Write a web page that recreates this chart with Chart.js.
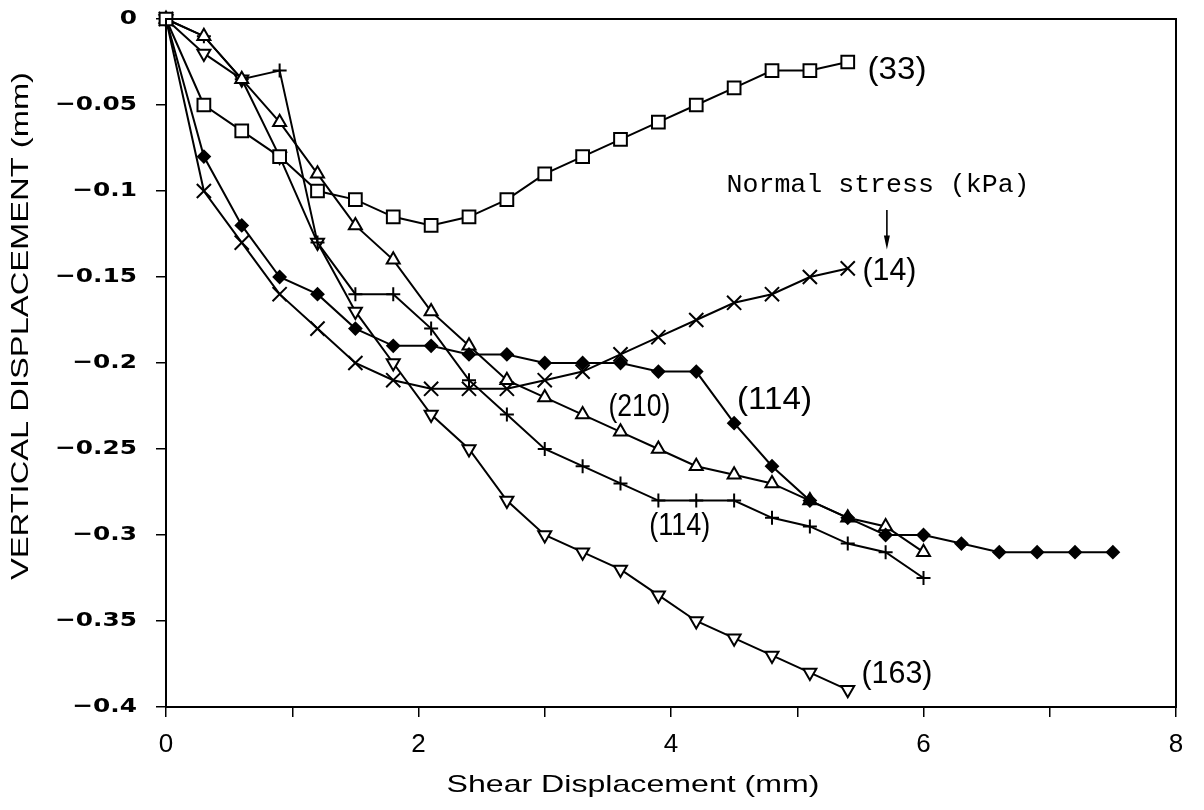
<!DOCTYPE html>
<html><head><meta charset="utf-8">
<script src="https://cdn.jsdelivr.net/npm/chart.js@4.4.0/dist/chart.umd.min.js"></script>
<style>html,body{margin:0;padding:0;background:#fff;} canvas{display:block;}</style>
</head><body>
<canvas id="c" width="1204" height="810" style="width:1204px;height:810px"></canvas>
<script>
// Shear displacement steps (mm)
const shear = [0,0.3,0.6,0.9,1.2,1.5,1.8,2.1,2.4,2.7,3.0,3.3,3.6,3.9,4.2,4.5,4.8,5.1,5.4,5.7,6.0,6.3,6.6,6.9,7.2,7.5];
// Vertical displacement (mm) per normal stress test
const vd33  = [0,-0.05,-0.065,-0.08,-0.1,-0.105,-0.115,-0.12,-0.115,-0.105,-0.09,-0.08,-0.07,-0.06,-0.05,-0.04,-0.03,-0.03,-0.025];
const vd14  = [0,-0.1,-0.13,-0.16,-0.18,-0.2,-0.21,-0.215,-0.215,-0.215,-0.21,-0.205,-0.195,-0.185,-0.175,-0.165,-0.16,-0.15,-0.145];
const vd114a = [0,-0.08,-0.12,-0.15,-0.16,-0.18,-0.19,-0.19,-0.195,-0.195,-0.2,-0.2,-0.2,-0.205,-0.205,-0.235,-0.26,-0.28,-0.29,-0.3,-0.3,-0.305,-0.31,-0.31,-0.31,-0.31];
const vd210 = [0,-0.01,-0.035,-0.06,-0.09,-0.12,-0.14,-0.17,-0.19,-0.21,-0.22,-0.23,-0.24,-0.25,-0.26,-0.265,-0.27,-0.28,-0.29,-0.295,-0.31];
const vd114b = [0,-0.01,-0.035,-0.03,-0.13,-0.16,-0.16,-0.18,-0.21,-0.23,-0.25,-0.26,-0.27,-0.28,-0.28,-0.28,-0.29,-0.295,-0.305,-0.31,-0.325];
const vd163 = [0,-0.02,-0.035,-0.08,-0.13,-0.17,-0.2,-0.23,-0.25,-0.28,-0.3,-0.31,-0.32,-0.335,-0.35,-0.36,-0.37,-0.38,-0.39];

const yTickValues = [0,-0.05,-0.1,-0.15,-0.2,-0.25,-0.3,-0.35,-0.4];
const yTickLabels = ['0','\u22120.05','\u22120.1','\u22120.15','\u22120.2','\u22120.25','\u22120.3','\u22120.35','\u22120.4'];
const xTickValues = [0,2,4,6,8];
const xTickLabels = ['0','2','4','6','8'];
const seriesLabels = ['(33)','(14)','(114)','(210)','(114)','(163)'];

function pts(ys){ return ys.map((y,i)=>({x:shear[i], y:y})); }

// annotation text placement (data coordinates) and target widths
const notes = [
  {t:seriesLabels[0], x:5.79, y:-0.0297, w:59},
  {t:seriesLabels[1], x:5.73, y:-0.1465, w:54},
  {t:seriesLabels[2], x:4.82, y:-0.222, w:75},
  {t:seriesLabels[3], x:3.75, y:-0.226, w:62},
  {t:seriesLabels[4], x:4.07, y:-0.295, w:61},
  {t:seriesLabels[5], x:5.79, y:-0.381, w:71}
];

const deco = {
  id:'deco',
  afterDraw(chart){
    const ctx = chart.ctx, xs = chart.scales.x, ys = chart.scales.y, a = chart.chartArea;
    ctx.save();
    ctx.strokeStyle = '#000'; ctx.lineWidth = 2;
    ctx.strokeRect(a.left, a.top, a.right - a.left, a.bottom - a.top);
    ctx.fillStyle = '#000';
    function draw(text, font, x, y, opt){
      opt = opt || {};
      ctx.save();
      ctx.font = font; ctx.textBaseline = 'middle'; ctx.textAlign = opt.align || 'center';
      const m = ctx.measureText(text).width;
      const sx = opt.w ? opt.w / m : (opt.sx || 1);
      ctx.translate(x, y);
      if (opt.rot) ctx.rotate(opt.rot);
      ctx.scale(sx, 1);
      ctx.fillText(text, 0, 0);
      ctx.restore();
    }
    yTickValues.forEach((v,i)=>draw(yTickLabels[i], 'bold 20px "DejaVu Sans"', 137, ys.getPixelForValue(v), {align:'right', sx:1.24}));
    xTickValues.forEach((v,i)=>draw(xTickLabels[i], '26px "Liberation Sans"', xs.getPixelForValue(v), 745));
    draw('VERTICAL DISPLACEMENT (mm)', '24px "Liberation Sans"', 21, 326, {w:508, rot:-Math.PI/2});
    draw('Shear Displacement (mm)', '24px "Liberation Sans"', 633, 785, {w:373});
    notes.forEach(n=>draw(n.t, '31px "Liberation Sans"', xs.getPixelForValue(n.x), ys.getPixelForValue(n.y), {w:n.w}));
    draw('Normal stress (kPa)', '26px "Liberation Mono"', xs.getPixelForValue(5.64), ys.getPixelForValue(-0.0965), {w:303});
    // arrow
    const ax = xs.getPixelForValue(5.71), ay1 = ys.getPixelForValue(-0.111), ay2 = ys.getPixelForValue(-0.134);
    ctx.lineWidth = 1.6;
    ctx.beginPath(); ctx.moveTo(ax, ay1); ctx.lineTo(ax, ay2 - 8); ctx.stroke();
    ctx.beginPath(); ctx.moveTo(ax - 3, ay2 - 14); ctx.lineTo(ax + 3, ay2 - 14); ctx.lineTo(ax, ay2); ctx.closePath(); ctx.fill();
    ctx.restore();
  }
};

const common = {borderColor:'#000', borderWidth:2, pointBorderColor:'#000', pointBorderWidth:2,
  pointBackgroundColor:'#fff', tension:0, clip:false, showLine:true, fill:false};

new Chart(document.getElementById('c'), {
  type:'scatter',
  data:{datasets:[
    Object.assign({label:seriesLabels[0], data:pts(vd33), pointStyle:'rect', pointRadius:9}, common),
    Object.assign({label:seriesLabels[1], data:pts(vd14), pointStyle:'crossRot', pointRadius:10}, common),
    Object.assign({label:seriesLabels[2], data:pts(vd114a), pointStyle:'rectRot', pointRadius:6}, common, {pointBackgroundColor:'#000'}),
    Object.assign({label:seriesLabels[3], data:pts(vd210), pointStyle:'triangle', pointRadius:7.5}, common),
    Object.assign({label:seriesLabels[4], data:pts(vd114b), pointStyle:'cross', pointRadius:7}, common),
    Object.assign({label:seriesLabels[5], data:pts(vd163), pointStyle:'triangle', pointRadius:7.5, pointRotation:180}, common)
  ]},
  options:{
    responsive:false, animation:false, devicePixelRatio:1,
    layout:{padding:{left:0, top:19, right:28, bottom:0}},
    plugins:{legend:{display:false}, tooltip:{enabled:false}},
    scales:{
      x:{type:'linear', min:0, max:8,
        ticks:{stepSize:1, display:false},
        grid:{drawOnChartArea:false, drawTicks:true, tickLength:10, color:'#000', lineWidth:1.5},
        border:{display:true, color:'#000', width:2},
        afterFit(s){ s.height = 103; }
      },
      y:{type:'linear', min:-0.4, max:0,
        ticks:{stepSize:0.05, display:false},
        grid:{drawOnChartArea:false, drawTicks:true, tickLength:10, color:'#000', lineWidth:1.5},
        border:{display:true, color:'#000', width:2},
        afterFit(s){ s.width = 166; }
      }
    }
  },
  plugins:[deco]
});
</script>
</body></html>
